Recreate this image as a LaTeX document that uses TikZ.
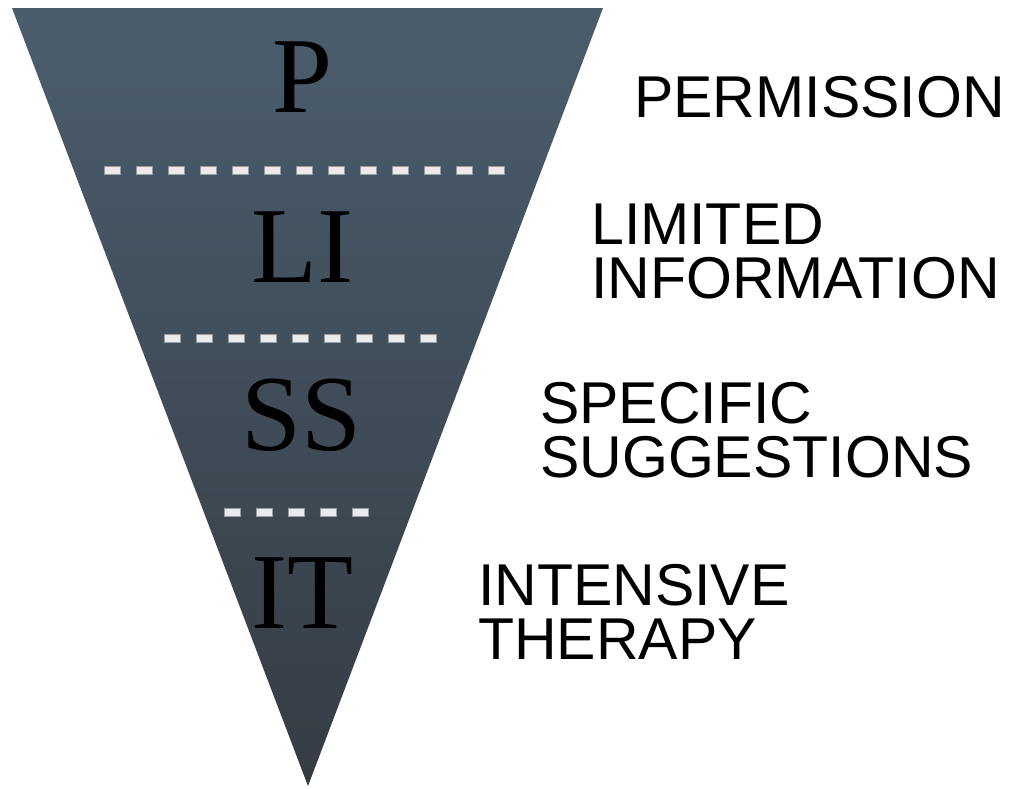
\documentclass[tikz,border=0pt]{standalone}
\usepackage{fontspec}
\setmainfont{Liberation Serif}
\newfontfamily\labelfont{Liberation Sans}
\definecolor{funneltop}{HTML}{4B5D6D}
\definecolor{funnelbot}{HTML}{353C44}
\definecolor{dashfill}{HTML}{EBEBEB}
\definecolor{dashedge}{HTML}{9A9EA2}
\begin{document}
\begin{tikzpicture}[x=1pt,y=-1pt,
  letter/.style={anchor=base, inner sep=0pt, font=\fontsize{108}{108}\selectfont, text=black},
  desc/.style={anchor=base west, inner sep=0pt, font=\labelfont\fontsize{59}{54}\selectfont, text=black},
  dashbox/.style={fill=dashfill, draw=dashedge, line width=0.6pt}]
\useasboundingbox (0,0) rectangle (1011,788);
\shade[top color=funneltop, bottom color=funnelbot] (12,8) -- (603,8) -- (308,786) -- cycle;
% separators
\foreach \i in {0,...,12} {\draw[dashbox] ({104+32*\i},166) rectangle ({120+32*\i},174);}
\foreach \i in {0,...,8} {\draw[dashbox] ({164+32*\i},334) rectangle ({180+32*\i},342);}
\foreach \i in {0,...,4} {\draw[dashbox] ({224+32*\i},508) rectangle ({240+32*\i},516);}
% letters
\node[letter] (p) at (303,112) {P};
\node[letter] (li) at (302,282) {LI};
\node[letter] (ss) at (302,450) {SS};
\node[letter] (it) at (302,628) {IT};
% labels
\node[desc] (perm) at (634,117) {PERMISSION};
\node[desc] (lim1) at (591,244) {LIMITED};
\node[desc] (lim2) at (591,298) {INFORMATION};
\node[desc] (spe1) at (540,423) {SPECIFIC};
\node[desc] (spe2) at (540,477) {SUGGESTIONS};
\node[desc] (int1) at (478,605) {INTENSIVE};
\node[desc] (int2) at (478,659) {THERAPY};
\end{tikzpicture}
\end{document}
